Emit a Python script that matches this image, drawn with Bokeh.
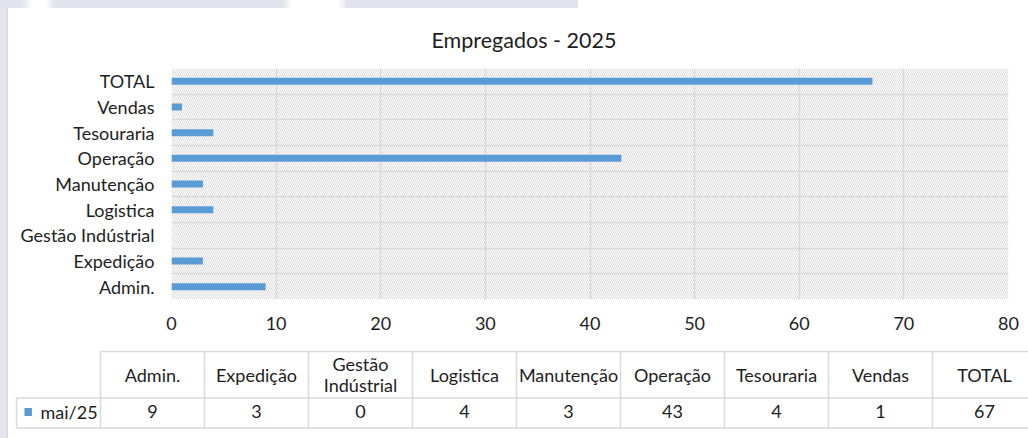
from bokeh.plotting import figure
from bokeh.models import Range1d, FixedTicker, BoxAnnotation, ColumnDataSource
from bokeh.embed import file_html
from bokeh.resources import INLINE
from bokeh.core.properties import value

# ---------------- data ----------------
title_text = "Empregados - 2025"
categories = ["Admin.", "Expedição", "Gestão Indústrial", "Logistica", "Manutenção",
              "Operação", "Tesouraria", "Vendas", "TOTAL"]
values = [9, 3, 0, 4, 3, 43, 4, 1, 67]
series_name = "mai/25"
x_ticks = [0, 10, 20, 30, 40, 50, 60, 70, 80]

# ---------------- style ----------------
FONT = "Lato"
TXT = "#1e1e1e"
GRID = "#d9d9d9"
BAR = "#5b9bd5"
FS = "18px"

n = len(categories)
y_pos = [i + 0.5 for i in range(n)]

# ---------------- bar chart ----------------
p = figure(width=1020, height=341, output_backend="svg", toolbar_location=None,
           x_range=Range1d(x_ticks[0], x_ticks[-1]), y_range=Range1d(0, n),
           min_border_left=163, min_border_right=20, min_border_top=57, min_border_bottom=51,
           background_fill_color="white", border_fill_color="white", outline_line_color=None)

hatch = BoxAnnotation(left=x_ticks[0], right=x_ticks[-1], bottom=0, top=n,
                      fill_color="white", fill_alpha=1.0, line_color=None,
                      hatch_pattern="\\", hatch_color="#dcdcdc", hatch_scale=4, hatch_weight=1,
                      level="image")
p.add_layout(hatch)

src = ColumnDataSource(dict(y=y_pos, v=values))
p.hbar(y="y", left=0, right="v", height=0.27, source=src, fill_color=BAR, line_color=None)

p.xgrid.ticker = FixedTicker(ticks=x_ticks)
p.xaxis.ticker = FixedTicker(ticks=x_ticks)
p.ygrid.ticker = FixedTicker(ticks=list(range(n + 1)))
p.yaxis.ticker = FixedTicker(ticks=y_pos)
p.yaxis.major_label_overrides = {y: c for y, c in zip(y_pos, categories)}
for g in (p.xgrid[0], p.ygrid[0]):
    g.grid_line_color = GRID
    g.grid_line_width = 1.5

for ax in (p.xaxis[0], p.yaxis[0]):
    ax.axis_line_color = None
    ax.major_tick_line_color = None
    ax.minor_tick_line_color = None
    ax.major_tick_out = 0
    ax.major_tick_in = 0
    ax.major_label_text_font = FONT
    ax.major_label_text_font_size = FS
    ax.major_label_text_color = TXT
p.xaxis.major_label_standoff = 17
p.yaxis.major_label_standoff = 17

p.title.text = title_text
p.title.align = "left"
p.title.offset = 260
p.title.text_font = FONT
p.title.text_font_size = "21.5px"
p.title.text_font_style = "normal"
p.title.text_color = TXT
p.title.standoff = 31

# ---------------- data table ----------------
t = figure(width=1020, height=88, output_backend="svg", toolbar_location=None,
           x_range=Range1d(8, 1028), y_range=Range1d(438, 350),
           x_axis_type=None, y_axis_type=None, min_border=0,
           background_fill_color="white", border_fill_color="white", outline_line_color=None)

leg_left, col_left, col_w = 16, 100, 104
row_top, row_mid, row_bot = 351, 397.5, 427.5
col_edges = [col_left + i * col_w for i in range(n + 1)]
right_end = col_edges[-1]

t.segment(x0=[col_left, leg_left, leg_left], y0=[row_top, row_mid, row_bot],
          x1=[right_end] * 3, y1=[row_top, row_mid, row_bot],
          line_color=GRID, line_width=1.5)
t.segment(x0=[leg_left] + col_edges, y0=[row_mid] + [row_top] * len(col_edges),
          x1=[leg_left] + col_edges, y1=[row_bot] * (len(col_edges) + 1),
          line_color=GRID, line_width=1.5)

hx, hy, ht = [], [], []
head_c = (row_top + row_mid) / 2
for i, c in enumerate(categories):
    cx = col_left + col_w * (i + 0.5)
    lines = c.split(" ") if len(c) > 12 else [c]
    for j, ln in enumerate(lines):
        hx.append(cx)
        hy.append(head_c + (j - (len(lines) - 1) / 2) * 21)
        ht.append(ln)
t.text(x=hx, y=hy, text=ht, text_align="center", text_baseline="middle",
       text_font=value(FONT), text_font_size=FS, text_color=TXT)

val_c = (row_mid + row_bot) / 2 - 1.5
t.text(x=[col_left + col_w * (i + 0.5) for i in range(n)], y=[val_c] * n,
       text=[str(v) for v in values], text_align="center", text_baseline="middle",
       text_font=value(FONT), text_font_size=FS, text_color=TXT)

t.rect(x=[27.7], y=[val_c + 0.5], width=7.5, height=8, fill_color=BAR, line_color=None)
t.text(x=[40], y=[val_c], text=[series_name], text_align="left", text_baseline="middle",
       text_font=value(FONT), text_font_size=FS, text_color=TXT)

html = file_html([p, t], INLINE, title=title_text)
LAV = "#e3e3ed"
css = ("<style>body{padding:9px 0 0 8px !important;font-size:0;line-height:0;"
       "background:"
       "linear-gradient(to right," + LAV + " 0px," + LAV + " 7px,#d9d9d9 7px,#d9d9d9 8px,#ffffff 8px,#ffffff 1028px) 0 8px/100% 100% no-repeat,"
       "linear-gradient(to right," + LAV + " 0px," + LAV + " 22px,#ffffff 32px,#ffffff 46px," + LAV + " 54px,"
       + LAV + " 283px,#ffffff 292px,#ffffff 338px," + LAV + " 347px," + LAV + " 578px,#ffffff 578px) 0 0/100% 8px no-repeat,"
       "#d9d9d9;}</style></head>")
html = html.replace("</head>", css, 1)
open("out.html", "w").write(html)
